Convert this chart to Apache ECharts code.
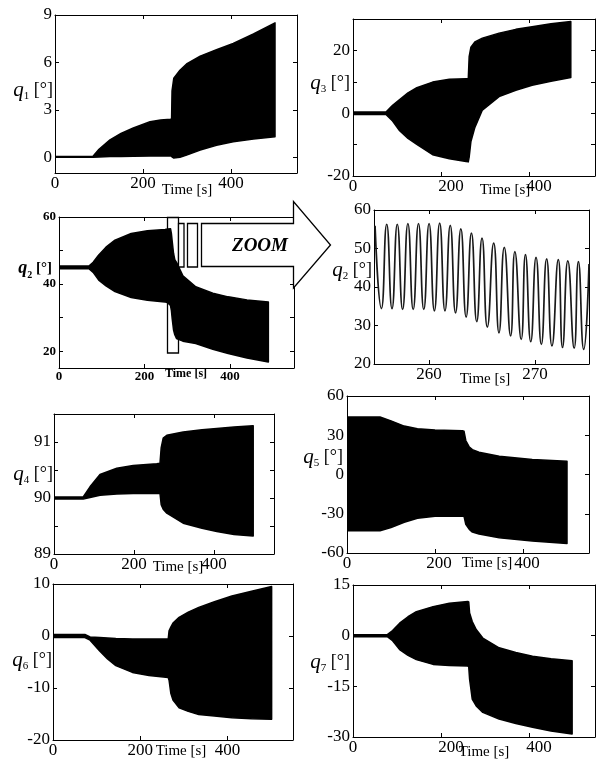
<!DOCTYPE html>
<html>
<head>
<meta charset="utf-8">
<script src="https://cdn.jsdelivr.net/npm/echarts@6/dist/echarts.min.js"></script>
<style>
  html, body { margin: 0; padding: 0; background: #fff; }
  #chart { width: 597px; height: 762px; }
</style>
</head>
<body>
<div id="chart"></div>
<script>
// envelope of each joint angle: time [s], lower and upper edge of the oscillation [deg]
var q1T  = [0, 86, 100, 125, 150, 178, 216, 240, 263, 265, 266, 270, 284, 299, 330, 367, 405, 451, 500];
var q1Hi = [0.05, 0.05, 0.5, 1.1, 1.5, 1.85, 2.25, 2.35, 2.4, 2.45, 4.2, 5.0, 5.5, 5.9, 6.4, 6.8, 7.2, 7.8, 8.5];
var q1Lo = [0, 0, 0.02, 0.04, 0.05, 0.06, 0.08, 0.08, 0.08, 0.05, 0.02, -0.05, 0, 0.13, 0.45, 0.75, 0.98, 1.15, 1.3];

var q3T  = [0, 75, 90, 106, 125, 145, 181, 219, 257, 262, 264, 268, 277, 294, 332, 370, 407, 450, 495];
var q3Hi = [0.4, 0.4, 2.5, 4.3, 6.5, 8.1, 9.9, 10.8, 11.0, 11.0, 18.0, 21.0, 22.7, 23.9, 25.5, 26.7, 27.5, 28.5, 29.2];
var q3Lo = [-0.4, -0.4, -2.5, -5.6, -8.0, -9.9, -13.2, -14.5, -15.4, -15.5, -14.0, -9.0, -4.5, 1.0, 5.3, 7.3, 8.9, 10.2, 11.4];

var q2T  = [0, 70, 80, 93, 110, 131, 169, 207, 248, 255, 261, 263, 265, 268, 271, 275, 290, 320, 360, 396, 440, 490];
var q2Hi = [45.4, 45.4, 46.5, 48.7, 51.0, 53.1, 55.1, 55.9, 56.3, 56.4, 56.5, 55.1, 52.7, 49.2, 47.3, 46.5, 42.5, 39.2, 37.3, 36.2, 35.3, 34.7];
var q2Lo = [44.6, 44.6, 43.5, 41.2, 39.5, 37.8, 36.0, 35.2, 34.7, 34.4, 33.6, 32.2, 29.6, 26.4, 24.9, 23.8, 23.0, 22.3, 20.6, 19.3, 18.0, 16.8];

var q4T  = [0, 73, 90, 115, 157, 198, 257, 265, 268, 273, 282, 323, 370, 407, 450, 498];
var q4Hi = [90.02, 90.02, 90.2, 90.42, 90.53, 90.58, 90.61, 90.62, 90.9, 91.07, 91.12, 91.18, 91.22, 91.24, 91.27, 91.29];
var q4Lo = [89.98, 89.98, 90.01, 90.05, 90.07, 90.08, 90.08, 90.08, 89.88, 89.8, 89.73, 89.55, 89.46, 89.4, 89.35, 89.32];

var q5T  = [0, 75, 100, 130, 160, 200, 262, 266, 270, 278, 285, 300, 346, 421, 500];
var q5Hi = [44, 44, 41, 37, 35, 34, 33.5, 33, 26, 21, 19, 17, 14, 11.5, 10.2];
var q5Lo = [-43, -43, -40.5, -36.5, -33.5, -32, -31.8, -32, -38, -42, -44, -45.5, -48.3, -50.9, -52.7];

var q6T  = [0, 73, 85, 107, 125, 144, 182, 220, 264, 266, 270, 275, 289, 310, 334, 370, 410, 455, 501];
var q6Hi = [0.3, 0.3, -0.2, -0.3, -0.4, -0.5, -0.6, -0.6, -0.6, 1.0, 1.7, 2.5, 3.6, 4.6, 5.5, 6.6, 7.7, 8.6, 9.5];
var q6Lo = [-0.3, -0.3, -0.8, -2.9, -4.4, -5.7, -7.0, -7.6, -8.0, -8.5, -11.0, -12.3, -13.8, -14.5, -15.1, -15.4, -15.7, -15.9, -16.0];

var q7T  = [0, 78, 90, 106, 125, 144, 182, 219, 261, 263, 265, 271, 280, 295, 332, 370, 408, 450, 498];
var q7Hi = [0.3, 0.3, 1.5, 3.7, 5.6, 7.1, 8.6, 9.6, 10.1, 10.0, 6.7, 4.2, 1.8, -0.7, -3.6, -5.0, -6.1, -6.8, -7.4];
var q7Lo = [-0.3, -0.3, -1.5, -4.1, -5.8, -7.1, -8.5, -8.8, -9.0, -9.2, -12.9, -18.8, -20.8, -22.7, -24.7, -26.0, -27.1, -28.2, -29.1];

// zoomed q2 between 255 and 275 s: alternating peaks and troughs
var zoomT  = [254.9, 255.5, 256.0, 256.5, 257.0, 257.5, 258.0, 258.5, 259.0, 259.5, 260.0, 260.5, 261.0, 261.5,
              262.0, 262.5, 263.0, 263.5, 264.0, 264.5, 265.0, 265.5, 266.1, 266.6, 267.1, 267.7, 268.1, 268.7,
              269.1, 269.6, 270.1, 270.6, 271.1, 271.6, 272.2, 272.6, 273.1, 273.7, 274.1, 274.6, 275.1];
var zoomQ2 = [55.9, 34.4, 56.3, 34.4, 56.3, 34.2, 56.5, 34.2, 56.5, 34.2, 56.5, 33.8, 56.6, 33.8,
              56.0, 33.3, 55.1, 32.2, 54.0, 31.0, 52.7, 29.6, 51.4, 28.1, 50.3, 27.3, 49.2, 26.4,
              48.4, 25.8, 47.7, 25.1, 47.3, 24.7, 47.1, 24.3, 46.8, 24.1, 46.6, 23.8, 46.0];

var timeTicks = [0, 200, 400];

var SERIF = 'Liberation Serif';

var panels = [
  { sub: '1', t: q1T, lo: q1Lo, hi: q1Hi, box: [55, 15, 242, 158], y: [-1, 9], yl: [0, 3, 6, 9], yt: [0, 3, 6, 9], nameAt: [53, 90], timeAt: [187, 190] },
  { sub: '3', t: q3T, lo: q3Lo, hi: q3Hi, box: [353, 19, 242, 157], y: [-20, 30], yl: [-20, 0, 20], yt: [-10, 0, 10, 20], nameAt: [350, 83], timeAt: [505, 190], shift: 10 },
  { sub: '2', t: q2T, lo: q2Lo, hi: q2Hi, box: [59, 217, 235, 151], y: [15, 60], yl: [20, 40, 60], yt: [20, 30, 40, 50], nameAt: [52, 268], timeAt: [186, 374], bold: true },
  { sub: '2', zoom: true, box: [374, 210, 215, 154], x: [254.8, 275.1], xl: [260, 270], y: [20, 60], yl: [20, 30, 40, 50, 60], yt: [30, 40, 50], nameAt: [372, 270], timeAt: [485, 379] },
  { sub: '4', t: q4T, lo: q4Lo, hi: q4Hi, box: [54, 414, 220, 140], y: [89, 91.5], yl: [89, 90, 91], yt: [89.5, 90, 90.5, 91], nameAt: [53, 474], timeAt: [178, 567] },
  { sub: '5', t: q5T, lo: q5Lo, hi: q5Hi, box: [347, 396, 242, 157], y: [-60, 60], yl: [-60, -30, 0, 30, 60], yt: [-30, 0, 30], nameAt: [343, 457], timeAt: [487, 563], shift: 4 },
  { sub: '6', t: q6T, lo: q6Lo, hi: q6Hi, box: [53, 584, 240, 156], y: [-20, 10], yl: [-20, -10, 0, 10], yt: [-10, 0], nameAt: [52, 660], timeAt: [181, 751] },
  { sub: '7', t: q7T, lo: q7Lo, hi: q7Hi, box: [353, 585, 242, 152], y: [-30, 15], yl: [-30, -15, 0, 15], yt: [-15, 0], nameAt: [350, 662], timeAt: [484, 752], shift: 10 }
];

function labelStyle(bold, show, vals, margin, shift) {
  var font = { fontFamily: SERIF, fontSize: bold ? 13 : 17, fontWeight: bold ? 'bold' : 'normal', color: '#000' };
  var s = {
    show: show, customValues: vals, margin: margin, color: '#000',
    fontFamily: font.fontFamily, fontSize: font.fontSize, fontWeight: font.fontWeight
  };
  if (shift) {
    // the scanned figure prints the non-zero time labels a little right of their ticks
    s.formatter = function (v) { return v === 0 ? '0' : '{m|' + v + '}'; };
    s.rich = { m: Object.assign({ padding: [0, 0, 0, 2 * shift] }, font) };
  }
  return s;
}

// filled band between lower and upper edge, drawn once through the axes' scales
function bandRenderer(p) {
  return function (params, api) {
    if (params.dataIndex !== 0) return null;
    var pts = [];
    for (var k = 0; k < p.t.length; k++) pts.push(api.coord([p.t[k], p.hi[k]]));
    for (var j = p.t.length - 1; j >= 0; j--) pts.push(api.coord([p.t[j], p.lo[j]]));
    return {
      type: 'polygon',
      shape: { points: pts },
      style: { fill: '#000', stroke: '#000', lineWidth: 1.5, lineJoin: 'round' }
    };
  };
}

var grids = [], xAxes = [], yAxes = [], series = [], graphics = [];

panels.forEach(function (p, i) {
  var xr = p.x || [0, 550];
  var xl = p.xl || timeTicks;
  grids.push({ left: p.box[0], top: p.box[1], width: p.box[2], height: p.box[3], containLabel: false, outerBoundsMode: 'none' });

  ['bottom', 'top'].forEach(function (pos) {
    xAxes.push({
      type: 'value', gridIndex: i, position: pos, min: xr[0], max: xr[1],
      axisLine: { show: true, onZero: false, lineStyle: { color: '#000', width: 1 } },
      axisTick: { show: true, inside: true, length: 4, customValues: xl, lineStyle: { color: '#000' } },
      axisLabel: labelStyle(p.bold, pos === 'bottom', xl, 2, p.shift),
      splitLine: { show: false }
    });
  });
  ['left', 'right'].forEach(function (pos) {
    yAxes.push({
      type: 'value', gridIndex: i, position: pos, min: p.y[0], max: p.y[1],
      axisLine: { show: true, onZero: false, lineStyle: { color: '#000', width: 1 } },
      axisTick: { show: true, inside: true, length: 4, customValues: p.yt, lineStyle: { color: '#000' } },
      axisLabel: labelStyle(p.bold, pos === 'left', p.yl, 3, 0),
      splitLine: { show: false }
    });
  });

  if (p.zoom) {
    series.push({
      type: 'line', xAxisIndex: 2 * i, yAxisIndex: 2 * i,
      data: zoomT.map(function (t, k) { return [t, zoomQ2[k]]; }),
      smooth: 0.55, showSymbol: false,
      lineStyle: { color: '#1a1a1a', width: 1.7 }
    });
  } else {
    series.push({
      type: 'custom', xAxisIndex: 2 * i, yAxisIndex: 2 * i, clip: true,
      data: p.t.map(function (t, k) { return [t, p.lo[k], p.hi[k]]; }),
      encode: { x: 0, y: [1, 2] },
      renderItem: bandRenderer(p)
    });
  }

  var b = p.bold;
  graphics.push({
    type: 'text', x: p.nameAt[0], y: p.nameAt[1], z: 50,
    style: {
      text: '{q|q}{s|' + p.sub + '}{u| [°]}',
      align: 'right', verticalAlign: 'middle',
      rich: {
        q: { fontFamily: SERIF, fontStyle: 'italic', fontWeight: b ? 'bold' : 'normal', fontSize: b ? 18 : 21, fill: '#000', lineHeight: 24 },
        s: { fontFamily: SERIF, fontWeight: b ? 'bold' : 'normal', fontSize: b ? 10 : 11, fill: '#000', verticalAlign: 'bottom', lineHeight: 24 },
        u: { fontFamily: SERIF, fontWeight: b ? 'bold' : 'normal', fontSize: b ? 15 : 18, fill: '#000', lineHeight: 24 }
      }
    }
  });
  graphics.push({
    type: 'text', x: p.timeAt[0], y: p.timeAt[1], z: 50,
    style: {
      text: 'Time [s]', align: 'center', verticalAlign: 'middle', fill: '#000',
      font: (b ? 'bold 12px ' : '15px ') + SERIF
    }
  });
});

// zoom marker boxes and arrow on the q2 panel
graphics.push(
  { type: 'rect', z: 60, shape: { x: 167.5, y: 217.5, width: 11, height: 135.5 }, style: { fill: null, stroke: '#000', lineWidth: 1.3 } },
  { type: 'rect', z: 60, shape: { x: 178.5, y: 223.5, width: 5.5, height: 43.5 }, style: { fill: '#fff', stroke: '#000', lineWidth: 1.3 } },
  { type: 'rect', z: 60, shape: { x: 187.5, y: 223.5, width: 10, height: 43.5 }, style: { fill: '#fff', stroke: '#000', lineWidth: 1.3 } },
  {
    type: 'polygon', z: 60,
    shape: { points: [[201.5, 223.5], [293.5, 223.5], [293.5, 201.5], [330.5, 245], [293.5, 288], [293.5, 266.5], [201.5, 266.5]] },
    style: { fill: '#fff', stroke: '#000', lineWidth: 1.3 }
  },
  {
    type: 'text', z: 61, x: 260, y: 246,
    style: { text: 'ZOOM', align: 'center', verticalAlign: 'middle', fill: '#000', font: 'italic bold 19px ' + SERIF }
  }
);

var chart = echarts.init(document.getElementById('chart'), null, { renderer: 'canvas' });
chart.setOption({
  backgroundColor: '#fff',
  animation: false,
  grid: grids,
  xAxis: xAxes,
  yAxis: yAxes,
  series: series,
  graphic: graphics
});
</script>
</body>
</html>
